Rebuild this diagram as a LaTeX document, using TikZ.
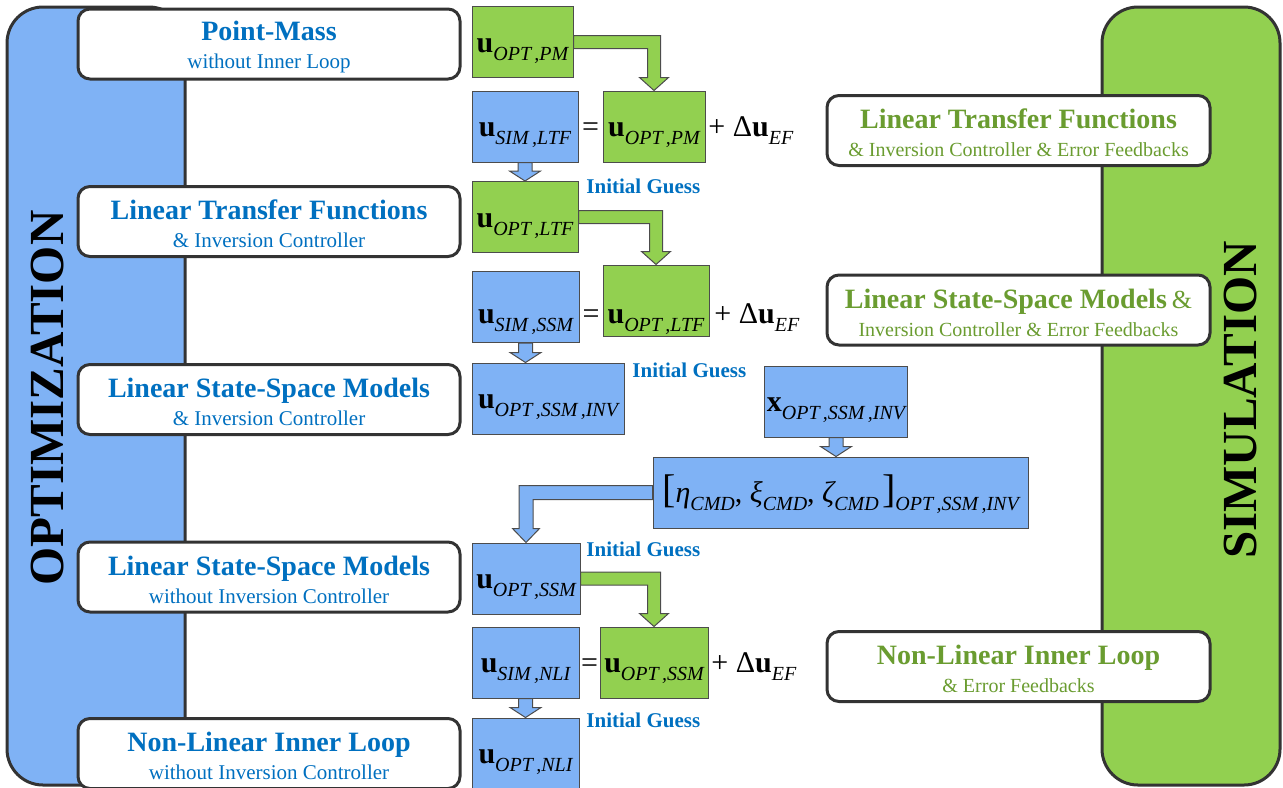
\documentclass[tikz,border=0pt]{standalone}
\usepackage{fontspec}
\setmainfont{Liberation Serif}
\usetikzlibrary{calc}

\definecolor{optblue}{RGB}{127,178,245}
\definecolor{simgreen}{RGB}{146,208,80}
\definecolor{titleblue}{RGB}{0,112,192}
\definecolor{titlegreen}{RGB}{106,156,48}
\definecolor{edge}{RGB}{51,51,51}

\newcommand{\stagetitle}[1]{{\fontsize{14}{14}\selectfont\bfseries\rule{0pt}{12.5pt}#1}}
\newcommand{\lsub}[1]{\raisebox{-4pt}{\fontsize{10}{10}\selectfont\itshape #1}}
\newcommand{\bvec}[2]{{\fontsize{15}{15}\selectfont\bfseries #1}\lsub{#2}}
\newcommand{\bigbr}[1]{{\fontsize{20}{20}\selectfont #1}}

% fat block arrows between boxes
\newcommand{\fatdown}[3]{%
  \filldraw[fat, fill=#3] let \p1=(#1.south), \p2=(#2.north) in
    (\x1-3.5pt,\y1) -- (\x1+3.5pt,\y1) -- (\x1+3.5pt,\y2+5pt) -- (\x1+7.75pt,\y2+5pt)
    -- (\x1,\y2) -- (\x1-7.75pt,\y2+5pt) -- (\x1-3.5pt,\y2+5pt) -- cycle;}
\newcommand{\elbowright}[3]{%
  \filldraw[fat, fill=#3] let \p1=(#1.east), \p2=(#2.north) in
    (\x1,\y1+3.25pt) -| (\x2+3.25pt,\y2+6.5pt) -- (\x2+7.25pt,\y2+6.5pt)
    -- (\x2,\y2) -- (\x2-7.25pt,\y2+6.5pt) -- (\x2-3.25pt,\y2+6.5pt)
    |- (\x1,\y1-3.25pt) -- cycle;}
\newcommand{\elbowleft}[3]{%
  \filldraw[fat, fill=#3] let \p1=(#1.west), \p2=(#2.north) in
    (\x1,\y1+3.5pt) -| (\x2-3.5pt,\y2+7pt) -- (\x2-6.75pt,\y2+7pt)
    -- (\x2,\y2) -- (\x2+6.75pt,\y2+7pt) -- (\x2+3.5pt,\y2+7pt)
    |- (\x1,\y1-3.5pt) -- cycle;}

\tikzset{
  panel/.style={draw=edge, line width=1.5pt, rounded corners=18pt},
  panellabel/.style={rotate=90, inner sep=0pt, font=\fontsize{24.5}{24.5}\selectfont\bfseries},
  stage/.style={draw=edge, line width=1.5pt, rounded corners=6pt, fill=white,
    align=center, inner sep=0pt, minimum height=35pt, font=\fontsize{10.5}{14}\selectfont},
  optstage/.style={stage, text=titleblue, minimum width=191pt},
  simstage/.style={stage, text=titlegreen, minimum width=191.5pt, font=\fontsize{10}{14}\selectfont},
  vecbox/.style={draw=gray!60!black, line width=0.5pt, inner sep=1pt, minimum height=35.5pt,
    text height=11pt, text depth=1pt},
  bluebox/.style={vecbox, fill=optblue},
  greenbox/.style={vecbox, fill=simgreen},
  fat/.style={draw=gray!60!black, line width=0.5pt},
  guess/.style={anchor=base west, inner sep=0pt, text=titleblue, font=\fontsize{10.5}{10.5}\selectfont\bfseries},
  eqsign/.style={anchor=base, inner sep=0pt, font=\fontsize{15}{15}\selectfont},
  eqtail/.style={anchor=base west, inner sep=0pt, font=\fontsize{15}{15}\selectfont}
}

\begin{document}
\begin{tikzpicture}[x=0.5pt, y=-0.5pt]
  \useasboundingbox (0,0) rectangle (1283,787);

  % background panels
  \draw[panel, fill=optblue] (7,7) rectangle (185,785);
  \draw[panel, fill=simgreen] (1102,7) rectangle (1280,785);
  \node (optlabel) [panellabel] at (47.5,398) {OPTIMIZATION};
  \node (simlabel) [panellabel] at (1240,400) {SIMULATION};

  % optimization stages
  \node (pm) [optstage] at (269,44) {\stagetitle{Point-Mass}\\without Inner Loop};
  \node (ltf) [optstage] at (269,221.5) {\stagetitle{Linear Transfer Functions}\\\& Inversion Controller};
  \node (ssm) [optstage] at (269,399.5) {\stagetitle{Linear State-Space Models}\\\& Inversion Controller};
  \node (ssmn) [optstage] at (269,577) {\stagetitle{Linear State-Space Models}\\without Inversion Controller};
  \node (nli) [optstage] at (269,753.5) {\stagetitle{Non-Linear Inner Loop}\\without Inversion Controller};

  % simulation stages
  \node (simltf) [simstage] at (1018.5,130.5)
    {\stagetitle{Linear Transfer Functions}\\\& Inversion Controller \& Error Feedbacks};
  \node (simssm) [simstage] at (1018.5,310)
    {\stagetitle{Linear State-Space Models} {\fontsize{13}{13}\selectfont\&}\\Inversion Controller \& Error Feedbacks};
  \node (simnli) [simstage] at (1018.5,666.5)
    {\stagetitle{Non-Linear Inner Loop}\\\& Error Feedbacks};

  % control vectors
  \node (g1) [greenbox, minimum width=50.5pt] at (522.5,42) {\bvec{u}{OPT\,,PM}};
  \node (b1) [bluebox, minimum width=53pt] at (525,126.5) {\bvec{u}{SIM\,,LTF}};
  \node (g2) [greenbox, minimum width=51pt] at (654,126.5) {\bvec{u}{OPT\,,PM}};
  \node (g3) [greenbox, minimum width=53pt] at (525,217) {\bvec{u}{OPT\,,LTF}};
  \node (b2) [bluebox, minimum width=53.5pt, text height=17pt] at (525.5,307) {\bvec{u}{SIM\,,SSM}};
  \node (g4) [greenbox, minimum width=53pt, text height=23.5pt] at (656,300.5) {\bvec{u}{OPT\,,LTF}};
  \node (b3) [bluebox, minimum width=76pt] at (548,398.5) {\bvec{u}{OPT\,,SSM\,,INV}};
  \node (b4) [bluebox, minimum width=71pt] at (836,401.5) {\bvec{x}{OPT\,,SSM\,,INV}};
  \node (b5) [bluebox, minimum width=187.5pt] at (840.5,492.5)
    {\bigbr{[}\bvec{\itshape\mdseries η}{CMD}{\fontsize{15}{15}\selectfont, }\bvec{\itshape\mdseries ξ}{CMD}{\fontsize{15}{15}\selectfont, }\bvec{\itshape\mdseries ζ}{CMD}\,\bigbr{]}\lsub{OPT\,,SSM\,,INV}};
  \node (b6) [bluebox, minimum width=54pt] at (526,578.5) {\bvec{u}{OPT\,,SSM}};
  \node (b7) [bluebox, minimum width=53.5pt] at (525.5,662.5) {\bvec{u}{SIM\,,NLI}};
  \node (g5) [greenbox, minimum width=54pt] at (654,662.5) {\bvec{u}{OPT\,,SSM}};
  \node (b8) [bluebox, minimum width=53.5pt] at (525.5,753.5) {\bvec{u}{OPT\,,NLI}};

  % equations
  \node (eq1) [eqsign] at (590.5,136.5) {=};
  \node (ef1) [eqtail] at (708,136.5) {+ Δ\textbf{u}\lsub{EF}};
  \node (eq2) [eqsign] at (591,323) {=};
  \node (ef2) [eqtail] at (714,323) {+ Δ\textbf{u}\lsub{EF}};
  \node (eq3) [eqsign] at (589.5,672.5) {=};
  \node (ef3) [eqtail] at (711,672.5) {+ Δ\textbf{u}\lsub{EF}};

  \node (ig1) [guess] at (586,193) {Initial Guess};
  \node (ig2) [guess] at (632,377) {Initial Guess};
  \node (ig3) [guess] at (586,556) {Initial Guess};
  \node (ig4) [guess] at (586,727) {Initial Guess};

  % arrows
  \elbowright{g1}{g2}{simgreen}
  \fatdown{b1}{g3}{optblue}
  \elbowright{g3}{g4}{simgreen}
  \fatdown{b2}{b3}{optblue}
  \fatdown{b4}{b5}{optblue}
  \elbowleft{b5}{b6}{optblue}
  \elbowright{b6}{g5}{simgreen}
  \fatdown{b7}{b8}{optblue}
\end{tikzpicture}
\end{document}
